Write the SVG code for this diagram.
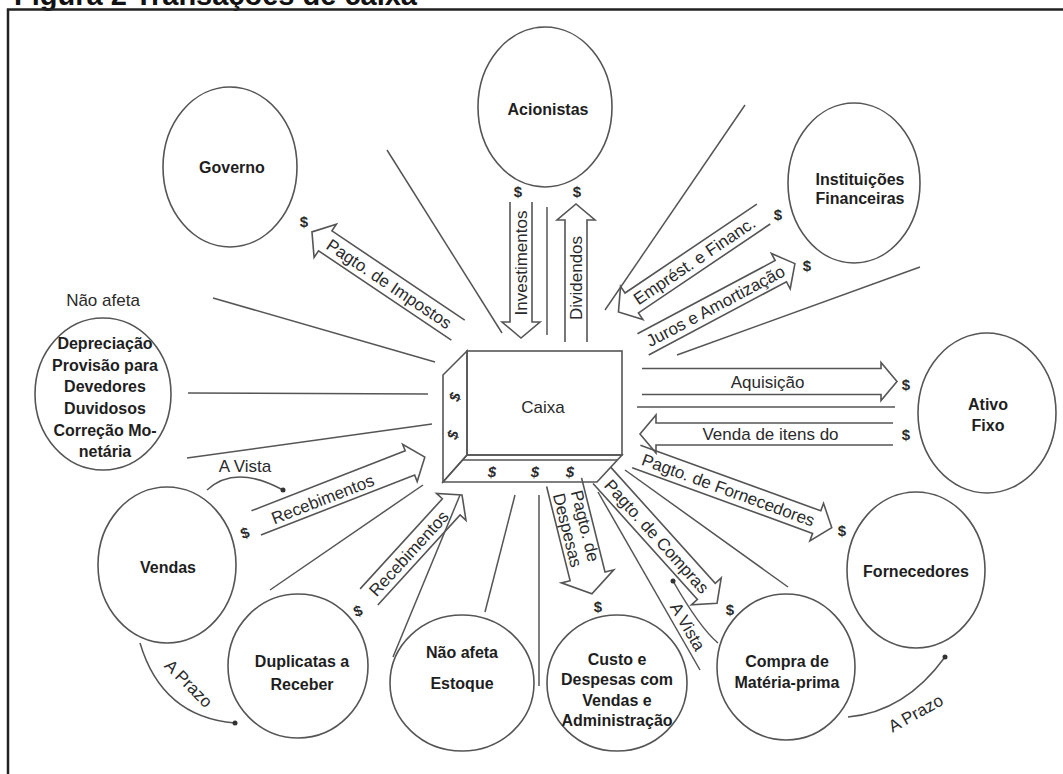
<svg xmlns="http://www.w3.org/2000/svg" width="1063" height="774" viewBox="0 0 1063 774">
<style>
text{font-family:"Liberation Sans",Arial,sans-serif;fill:#1e1e1e;text-anchor:middle}
.b{font-weight:bold;font-size:16px}
.r{font-size:17px;fill:#2a2a2a}
.d{font-size:15px;font-weight:bold;fill:#2a2a2a}
.title{font-weight:bold;font-size:29px;text-anchor:start;fill:#111}
ellipse,.box{fill:none;stroke:#555;stroke-width:1.6}
.ray{fill:none;stroke:#555;stroke-width:1.5}
.arr{fill:none;stroke:#555;stroke-width:1.6;stroke-linejoin:miter}
.dot{fill:#333}
</style>
<rect width="1063" height="774" fill="#fff"/>
<text class="title" x="14" y="5">Figura 2 Transações de caixa</text>
<path d="M8,774V9.5H1063" fill="none" stroke="#222" stroke-width="2.5"/>

<g id="governo"><ellipse cx="230" cy="167" rx="67" ry="80"/><text class="b" x="232" y="173">Governo</text></g>
<g id="acionistas"><ellipse cx="545" cy="107" rx="67" ry="80"/><text class="b" x="548" y="115">Acionistas</text></g>
<g id="instituicoes"><ellipse cx="854" cy="183" rx="66" ry="80"/><text class="b" x="860" y="185">Instituições</text><text class="b" x="860" y="204">Financeiras</text></g>
<g id="nao-afeta">
<text class="r" x="103" y="306">Não afeta</text>
<ellipse cx="103" cy="394" rx="68" ry="76"/>
<text class="b" x="105" y="349">Depreciação</text>
<text class="b" x="105" y="371">Provisão para</text>
<text class="b" x="105" y="392">Devedores</text>
<text class="b" x="105" y="414">Duvidosos</text>
<text class="b" x="105" y="436">Correção Mo-</text>
<text class="b" x="105" y="457">netária</text>
</g>
<g id="caixa">
<polygon class="box" points="467,351 443,375 443,482 467,455"/>
<polygon class="box" points="467,455 622,455 597,482 443,482"/>
<rect class="box" x="467" y="351" width="155" height="104"/>
<line class="box" x1="463" y1="460" x2="617" y2="460"/>
<text class="r" x="543" y="413">Caixa</text>
<text class="d" font-style="italic" font-weight="normal" transform="translate(455,397) rotate(-75)" y="5">$</text>
<text class="d" font-style="italic" font-weight="normal" transform="translate(453,435) rotate(-75)" y="5">$</text>
<text class="d" font-style="italic" font-weight="normal" x="492" y="477">$</text>
<text class="d" font-style="italic" font-weight="normal" x="535" y="477">$</text>
<text class="d" font-style="italic" font-weight="normal" x="570" y="477">$</text>
</g>
<g id="ativo-fixo"><ellipse cx="987" cy="413" rx="69" ry="80"/><text class="b" x="988" y="410">Ativo</text><text class="b" x="988" y="431">Fixo</text></g>
<g id="vendas"><ellipse cx="167" cy="565" rx="69" ry="78"/><text class="b" x="168" y="573">Vendas</text></g>
<g id="duplicatas"><ellipse cx="298" cy="666" rx="70" ry="72"/><text class="b" x="302" y="667">Duplicatas a</text><text class="b" x="302" y="690">Receber</text></g>
<g id="estoque"><ellipse cx="462" cy="683" rx="72" ry="68"/><text class="b" x="462" y="658">Não afeta</text><text class="b" x="462" y="689">Estoque</text></g>
<g id="custo"><ellipse cx="617" cy="683" rx="70" ry="68"/><text class="b" x="617" y="665">Custo e</text><text class="b" x="617" y="685">Despesas com</text><text class="b" x="617" y="706">Vendas e</text><text class="b" x="617" y="726">Administração</text></g>
<g id="compra"><ellipse cx="786" cy="667" rx="69" ry="73"/><text class="b" x="787" y="667">Compra de</text><text class="b" x="787" y="688">Matéria-prima</text></g>
<g id="fornecedores"><ellipse cx="916" cy="570" rx="69" ry="78"/><text class="b" x="916" y="577">Fornecedores</text></g>

<g id="connectors">
<line class="ray" x1="387" y1="150" x2="502" y2="333"/>
<line class="ray" x1="547" y1="207" x2="547" y2="335"/>
<line class="ray" x1="605" y1="310" x2="745" y2="105"/>
<line class="ray" x1="677" y1="355" x2="920" y2="267"/>
<line class="ray" x1="637" y1="407" x2="895" y2="407"/>
<line class="ray" x1="625" y1="470" x2="788" y2="587"/>
<line class="ray" x1="598" y1="492" x2="700" y2="670"/>
<line class="ray" x1="460" y1="495" x2="393" y2="657"/>
<line class="ray" x1="515" y1="495" x2="485" y2="612"/>
<line class="ray" x1="539" y1="495" x2="539" y2="686"/>
<line class="ray" x1="270" y1="590" x2="423" y2="485"/>
<line class="ray" x1="187" y1="458" x2="432" y2="424"/>
<line class="ray" x1="188" y1="393" x2="428" y2="394"/>
<line class="ray" x1="213" y1="298" x2="435" y2="362"/>

<g transform="translate(385,281) rotate(33.9)"><path class="arr" d="M88,-12H-72V-20L-88,0L-72,20V12H88"/><text class="r" x="5" y="6">Pagto. de Impostos</text></g>
<g transform="translate(521,270) rotate(-90)"><path class="arr" d="M68,-11H-52V-19L-68,0L-52,19V11H68"/><text class="r" x="7" y="6">Investimentos</text></g>
<g transform="translate(576,273) rotate(-90)"><path class="arr" d="M-69,-11H53V-19L69,0L53,19V11H-69"/><text class="r" x="-5" y="6">Dividendos</text></g>
<g transform="translate(691,263) rotate(-34)"><path class="arr" d="M87.5,-12H-71.5V-20L-87.5,0L-71.5,20V12H87.5"/><text class="r" x="4" y="6">Emprést. e Financ.</text></g>
<g transform="translate(719,304) rotate(-28)"><path class="arr" d="M-86,-12H70V-20L86,0L70,20V12H-86"/><text class="r" x="-4" y="6">Juros e Amortização</text></g>
<g transform="translate(769.5,381.5)"><path class="arr" d="M-127.5,-13H111.5V-19L127.5,0L111.5,19V13H-127.5"/><text class="r" x="-2" y="6">Aquisição</text></g>
<g transform="translate(766.5,434)"><path class="arr" d="M126.5,-11H-110.5V-19L-126.5,0L-110.5,19V11H126.5"/><text class="r" x="4" y="6">Venda de itens do</text></g>
<g transform="translate(734,492) rotate(20)"><path class="arr" d="M-104,-12H88V-20L104,0L88,20V12H-104"/><text class="r" x="-6" y="6">Pagto. de Fornecedores</text></g>
<g transform="translate(659.5,539.3) rotate(48)"><path class="arr" d="M-86,-12H70V-20L86,0L70,20V12H-86"/><text class="r" x="-4" y="6">Pagto. de Compras</text></g>
<g transform="translate(578,538) rotate(76)"><path class="arr" d="M-57.5,-18H39.5V-27L57.5,0L39.5,27V18H-57.5"/><text class="r" font-size="16" x="-10" y="-4">Pagto. de</text><text class="r" font-size="16" x="-10" y="14">Despesas</text></g>
<g transform="translate(415.5,546) rotate(-47.6)"><path class="arr" d="M-69,-12H53V-20L69,0L53,20V12H-69"/><text class="r" x="-10" y="6">Recebimentos</text></g>
<g transform="translate(340.5,490) rotate(-21.3)"><path class="arr" d="M-90.5,-13H74.5V-20L90.5,0L74.5,20V13H-90.5"/><text class="r" x="-20" y="8">Recebimentos</text></g>

<path class="ray" d="M207,490Q235,464 283,490"/><circle class="dot" cx="283" cy="490" r="2.5"/>
<text class="r" x="245" y="472">A Vista</text>
<path class="ray" d="M140,643Q162,717 235,723"/><circle class="dot" cx="235" cy="723" r="2.5"/>
<text class="r" transform="translate(188,684) rotate(45)" y="5">A Prazo</text>
<path class="ray" d="M848,717Q905,712 945,657"/><circle class="dot" cx="945" cy="657" r="2.5"/>
<text class="r" transform="translate(916,714) rotate(-29)" y="5">A Prazo</text>
<path class="ray" d="M718,643Q700,628 673,581"/><circle class="dot" cx="673" cy="581" r="2.5"/>
<text class="r" transform="translate(687,627) rotate(60)" y="5">A Vista</text>

<text class="d" x="304" y="227">$</text>
<text class="d" x="518" y="197">$</text>
<text class="d" x="577" y="197">$</text>
<text class="d" x="778" y="220">$</text>
<text class="d" x="807" y="271">$</text>
<text class="d" x="906" y="390">$</text>
<text class="d" x="906" y="440">$</text>
<text class="d" x="842" y="536">$</text>
<text class="d" x="730" y="615">$</text>
<text class="d" x="598" y="612">$</text>
<text class="d" transform="translate(358,611) rotate(-20)" y="5">$</text>
<text class="d" transform="translate(245,533) rotate(-20)" y="5">$</text>
</g>
</svg>
